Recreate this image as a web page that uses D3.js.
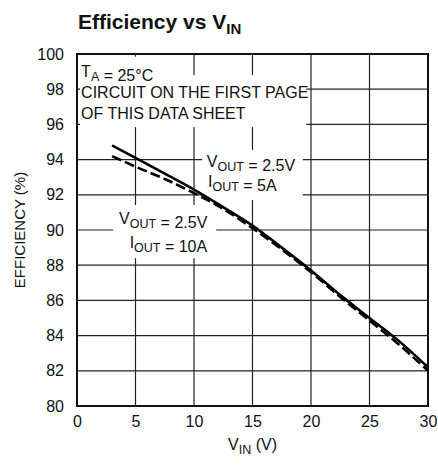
<!DOCTYPE html>
<html>
<head>
<meta charset="utf-8">
<script src="https://cdn.jsdelivr.net/npm/d3@7"></script>
<style>
  body { margin: 0; background: #fff; }
  svg { display: block; font-family: "Liberation Sans", Arial, Helvetica, sans-serif; }
</style>
</head>
<body>
<div id="chart"></div>
<script>
// x ticks (V) and y ticks (%)
const xTicks = [0, 5, 10, 15, 20, 25, 30];
const yTicks = [80, 82, 84, 86, 88, 90, 92, 94, 96, 98, 100];

// VIN points (V)
const vin = [3, 5, 7.5, 10, 12.5, 15, 17.5, 20, 22.5, 25, 27.5, 30];
// VOUT = 2.5V, IOUT = 5A (solid)
const eff5A = [94.8, 94.1, 93.2, 92.3, 91.3, 90.25, 89.0, 87.7, 86.3, 85.0, 83.7, 82.2];
// VOUT = 2.5V, IOUT = 10A (dashed)
const eff10A = [94.2, 93.6, 92.9, 92.1, 91.2, 90.1, 88.9, 87.6, 86.2, 84.85, 83.5, 82.0];

const W = 438, H = 468;
const margin = { top: 54, right: 10, bottom: 62, left: 77 };
const width = W - margin.left - margin.right;
const height = H - margin.top - margin.bottom;

const svg = d3.select('#chart')
  .append('svg')
  .attr('width', W)
  .attr('height', H);

// title
const title = svg.append('text')
  .attr('x', 78)
  .attr('y', 29)
  .attr('font-size', '21px')
  .attr('font-weight', 'bold')
  .attr('fill', '#111');
title.append('tspan').text('Efficiency vs V');
title.append('tspan').attr('dy', 5).attr('font-size', '15px').text('IN');

const g = svg.append('g')
  .attr('transform', `translate(${margin.left},${margin.top})`);

const x = d3.scaleLinear().domain([0, 30]).range([0, width]);
const y = d3.scaleLinear().domain([80, 100]).range([height, 0]);

// grid
g.append('g')
  .selectAll('line')
  .data(xTicks.slice(1, -1))
  .enter()
  .append('line')
  .attr('x1', d => x(d)).attr('x2', d => x(d))
  .attr('y1', 0).attr('y2', height)
  .attr('stroke', '#222')
  .attr('stroke-width', 1.2);

g.append('g')
  .selectAll('line')
  .data(yTicks.slice(1, -1))
  .enter()
  .append('line')
  .attr('x1', 0).attr('x2', width)
  .attr('y1', d => y(d)).attr('y2', d => y(d))
  .attr('stroke', '#222')
  .attr('stroke-width', 1.2);

// white boxes behind the notes (in data units)
const boxes = [
  { x0: 0.26, x1: 7.1, y0: 99.85, y1: 98.8 },
  { x0: 0.26, x1: 19.6, y0: 98.8, y1: 95.85 },
  { x0: 10.7, x1: 19.3, y0: 94.55, y1: 91.7 },
  { x0: 3.1, x1: 11.9, y0: 91.42, y1: 88.4 }
];
g.append('g')
  .selectAll('rect')
  .data(boxes)
  .enter()
  .append('rect')
  .attr('x', d => x(d.x0))
  .attr('y', d => y(d.y0))
  .attr('width', d => x(d.x1) - x(d.x0))
  .attr('height', d => y(d.y1) - y(d.y0))
  .attr('fill', '#fff');

// frame
g.append('rect')
  .attr('width', width)
  .attr('height', height)
  .attr('fill', 'none')
  .attr('stroke', '#111')
  .attr('stroke-width', 2);

// axes (labels only)
const xAxis = g.append('g')
  .attr('transform', `translate(0,${height})`)
  .call(d3.axisBottom(x).tickValues(xTicks).tickSize(0).tickPadding(7));
xAxis.select('.domain').remove();
xAxis.selectAll('text')
  .attr('dy', '0.9em')
  .style('font-size', '16px')
  .style('font-family', 'inherit')
  .attr('fill', '#111');

const yAxis = g.append('g')
  .call(d3.axisLeft(y).tickValues(yTicks).tickSize(0).tickPadding(13));
yAxis.select('.domain').remove();
yAxis.selectAll('text')
  .style('font-size', '16px')
  .style('font-family', 'inherit')
  .attr('fill', '#111');

// curves
const line = d3.line()
  .x(d => x(d[0]))
  .y(d => y(d[1]))
  .curve(d3.curveMonotoneX);

g.append('path')
  .datum(d3.zip(vin, eff10A))
  .attr('fill', 'none')
  .attr('stroke', '#000')
  .attr('stroke-width', 2.6)
  .attr('stroke-dasharray', '10,4')
  .attr('d', line);

g.append('path')
  .datum(d3.zip(vin, eff5A))
  .attr('fill', 'none')
  .attr('stroke', '#000')
  .attr('stroke-width', 2.6)
  .attr('d', line);

// notes: parts are strings or { sub: '...' }
function note(px, py, parts) {
  const t = g.append('text')
    .attr('x', px).attr('y', py)
    .attr('font-size', '16px')
    .attr('fill', '#111');
  parts.forEach(p => {
    if (typeof p === 'string') {
      t.append('tspan').text(p);
    } else {
      t.append('tspan').attr('dy', 4).attr('font-size', '12.5px').text(p.sub);
      t.append('tspan').attr('dy', -4).text('');
    }
  });
  return t;
}

note(x(0.35), y(98.7), ['T', { sub: 'A' }, ' = 25°C']);
note(x(0.35), y(97.5), ['CIRCUIT ON THE FIRST PAGE']);
note(x(0.35), y(96.3), ['OF THIS DATA SHEET']);

note(x(11.1), y(93.6), ['V', { sub: 'OUT' }, ' = 2.5V']);
note(x(11.2), y(92.45), ['I', { sub: 'OUT' }, ' = 5A']);

note(x(3.6), y(90.35), ['V', { sub: 'OUT' }, ' = 2.5V']);
note(x(4.5), y(88.95), ['I', { sub: 'OUT' }, ' = 10A']);

// axis titles
const xt = svg.append('text')
  .attr('x', margin.left + width / 2)
  .attr('y', 450)
  .attr('text-anchor', 'middle')
  .attr('font-size', '16px')
  .attr('fill', '#111');
xt.append('tspan').text('V');
xt.append('tspan').attr('dy', 4).attr('font-size', '12.5px').text('IN');
xt.append('tspan').attr('dy', -4).text(' (V)');

svg.append('text')
  .attr('transform', `translate(25,${margin.top + height / 2}) rotate(-90)`)
  .attr('text-anchor', 'middle')
  .attr('font-size', '15px')
  .attr('fill', '#111')
  .text('EFFICIENCY (%)');
</script>
</body>
</html>
